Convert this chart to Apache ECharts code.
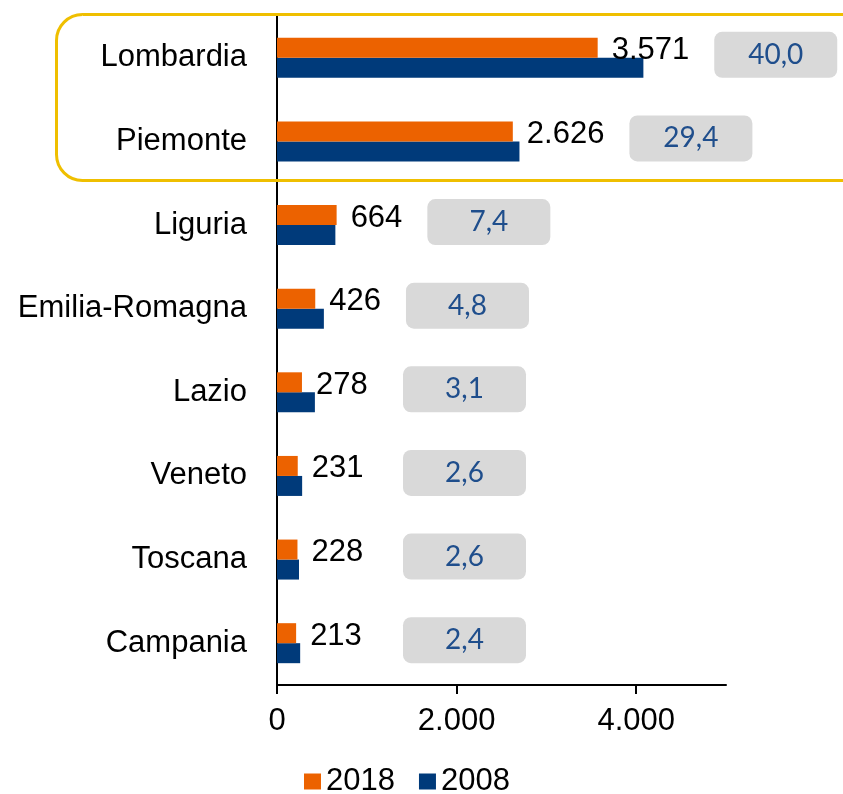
<!DOCTYPE html>
<html>
<head>
    <meta charset="utf-8">
    <title>Regioni</title>
    <script src="https://cdn.jsdelivr.net/npm/echarts@6/dist/echarts.min.js"></script>
    <style>
        html, body { margin: 0; padding: 0; background: #fff; }
        #chart1 { width: 843px; height: 794px; }
    </style>
</head>
<body>
<div id="chart1"></div>
<script>
    // dati
    var regions = ['Lombardia', 'Piemonte', 'Liguria', 'Emilia-Romagna', 'Lazio', 'Veneto', 'Toscana', 'Campania'];
    var val2018 = [3571, 2626, 664, 426, 278, 231, 228, 213];
    var val2008 = [4080, 2700, 650, 522, 422, 280, 245, 258];
    var shares = [40.0, 29.4, 7.4, 4.8, 3.1, 2.6, 2.6, 2.4];
    var xTicks = [0, 2000, 4000];

    var labelFont = '31px "Liberation Sans", Arial, sans-serif';
    var boxFont = '28px Lato, sans-serif';

    function fmtNum(v) {
        return String(v).replace(/\B(?=(\d{3})+(?!\d))/g, '.');
    }

    var measureCtx = document.createElement('canvas').getContext('2d');
    function textWidth(t, font) {
        measureCtx.font = font;
        return measureCtx.measureText(t).width;
    }

    var boxData = regions.map(function (r, i) {
        return [val2018[i], i, shares[i]];
    });

    var myChart1 = echarts.init(document.getElementById('chart1'));
    myChart1.setOption({
        animation: false,
        grid: {
            left: 277,
            right: 117,
            top: 16,
            bottom: 109,
            outerBoundsMode: 'none'
        },
        legend: {
            data: ['2018', '2008'],
            left: 299,
            top: 761,
            icon: 'rect',
            itemWidth: 17,
            itemHeight: 16,
            itemGap: 24,
            textStyle: {
                fontSize: 31,
                color: '#000',
                fontFamily: '"Liberation Sans", Arial, sans-serif',
                padding: [0, 0, 0, 0]
            }
        },
        xAxis: {
            type: 'value',
            min: 0,
            max: 5000,
            interval: 2000,
            splitLine: {show: false},
            axisLine: {show: true, lineStyle: {color: '#000', width: 2}},
            axisTick: {show: true, length: 9, customValues: xTicks, lineStyle: {color: '#000', width: 2}},
            axisLabel: {
                customValues: xTicks,
                margin: 21,
                fontSize: 31,
                color: '#000',
                fontFamily: '"Liberation Sans", Arial, sans-serif',
                formatter: function (v) { return fmtNum(v); }
            }
        },
        yAxis: {
            type: 'category',
            inverse: true,
            data: regions,
            axisLine: {show: true, lineStyle: {color: '#000', width: 2}},
            axisTick: {show: false},
            axisLabel: {
                margin: 30,
                fontSize: 31,
                color: '#000',
                padding: [6, 0, 0, 0],
                fontFamily: '"Liberation Sans", Arial, sans-serif'
            }
        },
        graphic: [{
            type: 'rect',
            left: 54,
            top: 12,
            shape: {width: 830, height: 166, r: 26},
            style: {fill: 'none', stroke: '#EFBF00', lineWidth: 3},
            z: 10
        }],
        series: [
            {
                name: '2018',
                type: 'bar',
                data: val2018,
                barWidth: 20,
                barGap: '0%',
                itemStyle: {color: '#EC6200'},
                label: {
                    show: true,
                    position: 'right',
                    distance: 14,
                    offset: [0, 3],
                    fontSize: 31,
                    color: '#000',
                    fontFamily: '"Liberation Sans", Arial, sans-serif',
                    formatter: function (p) { return fmtNum(p.value); }
                },
                z: 3
            },
            {
                name: '2008',
                type: 'bar',
                data: val2008,
                barWidth: 20,
                barGap: '0%',
                itemStyle: {color: '#003A7A'}
            },
            {
                // riquadri grigi con la quota %
                type: 'custom',
                data: boxData,
                z: 5,
                renderItem: function (params, api) {
                    var p = api.coord([api.value(0), api.value(1)]);
                    var lbl = fmtNum(api.value(0));
                    var labelEnd = p[0] + 14 + textWidth(lbl, labelFont);
                    var minLeft = api.coord([0, 0])[0] + 126;
                    var x = Math.max(minLeft, labelEnd + 25);
                    var w = 123, h = 46;
                    var cy = p[1] - 3;
                    var txt = api.value(2).toFixed(1).replace('.', ',');
                    return {
                        type: 'group',
                        children: [
                            {
                                type: 'rect',
                                shape: {x: x, y: cy - h / 2, width: w, height: h, r: 8},
                                style: {fill: '#D9D9D9'}
                            },
                            {
                                type: 'text',
                                style: {
                                    text: txt,
                                    x: x + w / 2,
                                    y: cy,
                                    align: 'center',
                                    verticalAlign: 'middle',
                                    fill: '#1F4E8C',
                                    font: boxFont
                                }
                            }
                        ]
                    };
                }
            }
        ]
    });
</script>
</body>
</html>
